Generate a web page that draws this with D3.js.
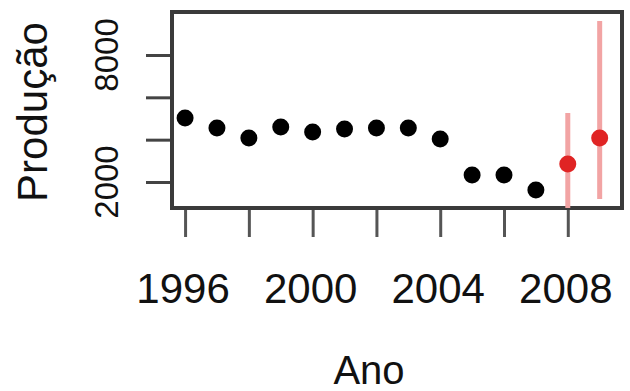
<!DOCTYPE html>
<html>
<head>
<meta charset="utf-8">
<script src="https://cdn.jsdelivr.net/npm/d3@7"></script>
<style>
  body { margin: 0; background: #fff; }
  text { font-family: "Liberation Sans", Arial, sans-serif; fill: #111; }
</style>
</head>
<body>
<svg id="chart"></svg>
<script>
// observed production by year
var years = [1996, 1997, 1998, 1999, 2000, 2001, 2002, 2003, 2004, 2005, 2006, 2007]
var producao = [5020, 4550, 4080, 4600, 4360, 4500, 4550, 4550, 4030, 2330, 2330, 1620]

// forecast years with intervals
var prevYears = [2008, 2009]
var prevValues = [2850, 4080]
var prevLower = [500, 1200]
var prevUpper = [5260, 9600]

var xTicks = [1996, 1998, 2000, 2002, 2004, 2006, 2008]
var xLabels = [1996, 2000, 2004, 2008]
var yTicks = [2000, 4000, 6000, 8000]
var yLabels = [2000, 8000]

var dimensions = {
    width: 630,
    height: 391,
    margin: { top: 12, bottom: 183, right: 8, left: 172 }
}
dimensions.boundedWidth = dimensions.width - dimensions.margin.left - dimensions.margin.right
dimensions.boundedHeight = dimensions.height - dimensions.margin.top - dimensions.margin.bottom

var svg = d3.select("#chart")
    .attr("width", dimensions.width)
    .attr("height", dimensions.height)

var xScale = d3.scaleLinear()
    .domain([1995.59, 2009.7])
    .range([dimensions.margin.left, dimensions.margin.left + dimensions.boundedWidth])

var yScale = d3.scaleLinear()
    .domain([772, 10030])
    .range([dimensions.margin.top + dimensions.boundedHeight, dimensions.margin.top])

var bottom = dimensions.margin.top + dimensions.boundedHeight

svg.append("clipPath").attr("id", "plotclip")
    .append("rect")
    .attr("x", dimensions.margin.left)
    .attr("y", dimensions.margin.top)
    .attr("width", dimensions.boundedWidth)
    .attr("height", dimensions.boundedHeight)

// x axis ticks
var xAxis = svg.append("g")
    .attr("transform", "translate(0," + (bottom + 2) + ")")
    .call(d3.axisBottom(xScale).tickValues(xTicks).tickSize(27).tickFormat(""))
xAxis.select(".domain").remove()
xAxis.selectAll("line").attr("stroke", "#555").attr("stroke-width", 3)

svg.append("g").selectAll("text")
    .data(xLabels)
    .enter()
    .append("text")
    .attr("x", d => xScale(d) - 2)
    .attr("y", 303)
    .attr("text-anchor", "middle")
    .style("font-size", "42px")
    .text(d => d)

// y axis ticks
var yAxis = svg.append("g")
    .attr("transform", "translate(" + (dimensions.margin.left - 1) + ",0)")
    .call(d3.axisLeft(yScale).tickValues(yTicks).tickSize(25).tickFormat(""))
yAxis.select(".domain").remove()
yAxis.selectAll("line").attr("stroke", "#444").attr("stroke-width", 3)

svg.append("g").selectAll("text")
    .data(yLabels)
    .enter()
    .append("text")
    .attr("transform", d => "translate(118," + yScale(d) + ") rotate(-90)")
    .attr("text-anchor", "middle")
    .style("font-size", "33px")
    .text(d => d)

// frame
svg.append("rect")
    .attr("x", dimensions.margin.left)
    .attr("y", dimensions.margin.top)
    .attr("width", dimensions.boundedWidth)
    .attr("height", dimensions.boundedHeight)
    .attr("fill", "none")
    .attr("stroke", "#3a3a3a")
    .attr("stroke-width", 4)

// forecast intervals
svg.append("g")
    .attr("clip-path", "url(#plotclip)")
    .selectAll("line")
    .data(prevYears)
    .enter()
    .append("line")
    .attr("x1", d => xScale(d))
    .attr("x2", d => xScale(d))
    .attr("y1", (d, i) => yScale(prevUpper[i]))
    .attr("y2", (d, i) => yScale(prevLower[i]))
    .attr("stroke", "#f2a4a4")
    .attr("stroke-width", 5)

// observed points
svg.append("g")
    .selectAll("circle")
    .data(years)
    .enter()
    .append("circle")
    .attr("cx", d => xScale(d))
    .attr("cy", (d, i) => yScale(producao[i]))
    .attr("r", 8.5)
    .attr("fill", "#000")

svg.append("g")
    .selectAll("circle")
    .data(prevYears)
    .enter()
    .append("circle")
    .attr("cx", d => xScale(d))
    .attr("cy", (d, i) => yScale(prevValues[i]))
    .attr("r", 8.5)
    .attr("fill", "#e02424")

// axis titles
svg.append("text")
    .attr("x", 369)
    .attr("y", 384)
    .attr("text-anchor", "middle")
    .style("font-size", "40px")
    .text("Ano")

svg.append("text")
    .attr("transform", "translate(47,112) rotate(-90)")
    .attr("text-anchor", "middle")
    .style("font-size", "42px")
    .text("Produção")
</script>
</body>
</html>
